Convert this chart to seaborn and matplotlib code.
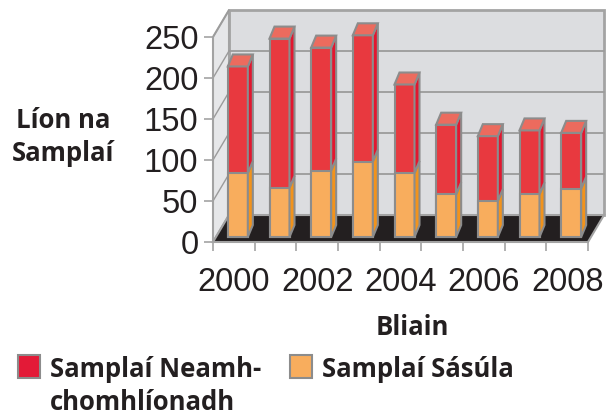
import matplotlib
matplotlib.use("Agg")
import matplotlib.pyplot as plt
import matplotlib.transforms as mtransforms
from matplotlib.patches import Polygon, Rectangle
import seaborn as sns
import pandas as pd

# data
years = ["2000", "2001", "2002", "2003", "2004", "2005", "2006", "2007", "2008"]
x_labels = ["2000", "", "2002", "", "2004", "", "2006", "", "2008"]
sasula = [78, 60, 81, 92, 78, 52, 44, 52, 59]
neamh = [130, 182, 150, 154, 108, 85, 79, 78, 68]
y_ticks = [0, 50, 100, 150, 200, 250]
series_names = ["Samplaí Neamh-\nchomhlíonadh", "Samplaí Sásúla"]

totals = [a + b for a, b in zip(sasula, neamh)]
df = pd.DataFrame({"Bliain": years, "Sasula": sasula, "Iomlan": totals})

RED = "#e8393f"
RED_SIDE = "#e3162f"
RED_TOP = "#ec6b5e"
ORANGE = "#f8ad5d"
ORANGE_SIDE = "#f2931c"
EDGE = "#8c8c8c"
WALL_EDGE = "#a3a3a3"
GRID = "#9b9b9b"
INK = "#231f20"

sns.set_style("white")
plt.rcParams["font.family"] = ["Liberation Sans", "DejaVu Sans"]

fig = plt.figure(figsize=(6.11, 4.15), dpi=100)
ax = fig.add_axes([213 / 611, 173 / 415, 375 / 611, 205 / 415])

# depth offsets (data units): walls, bar plane, bar thickness
wdx, wdy = 0.384, 32.9
bdx, bdy = 0.096, 6.1
sdx, sdy = 0.12, 14.6
shift = mtransforms.Affine2D().translate(bdx, bdy) + ax.transData

# stacked bars: totals in red, the Sásúla part drawn over it in orange
sns.barplot(data=df, x="Bliain", y="Iomlan", color=RED, width=0.48, saturation=1,
            edgecolor=EDGE, linewidth=1.5, ax=ax, zorder=2)
red_bars = ax.containers[-1]
sns.barplot(data=df, x="Bliain", y="Sasula", color=ORANGE, width=0.48, saturation=1,
            edgecolor=EDGE, linewidth=1.5, ax=ax, zorder=2)
orange_bars = ax.containers[-1]

for rb, ob in zip(red_bars, orange_bars):
    for bar in (rb, ob):
        bar.set_transform(shift)
        bar.set_clip_on(False)
    x0, w = rb.get_x(), rb.get_width()
    mid, top = ob.get_height(), rb.get_height()
    side_o = [(x0 + w, 0), (x0 + w + sdx, sdy), (x0 + w + sdx, mid + sdy), (x0 + w, mid)]
    side_r = [(x0 + w, mid), (x0 + w + sdx, mid + sdy), (x0 + w + sdx, top + sdy), (x0 + w, top)]
    roof = [(x0, top), (x0 + w, top), (x0 + w + sdx, top + sdy), (x0 + sdx, top + sdy)]
    for pts, fc in ((side_o, ORANGE_SIDE), (side_r, RED_SIDE), (roof, RED_TOP)):
        ax.add_patch(Polygon(pts, closed=True, fc=fc, ec=EDGE, lw=1.5,
                             transform=shift, zorder=2, clip_on=False))

ax.set_xlim(-0.5, len(years) - 0.5)
ax.set_ylim(0, 250)
x_end = len(years) - 0.5

# walls and floor
ax.add_patch(Rectangle((-0.5 + wdx, wdy), len(years), 250, fc="#dcdde0", ec=WALL_EDGE,
                       lw=2, zorder=0, clip_on=False))
ax.add_patch(Polygon([(-0.5, 0), (-0.5 + wdx, wdy), (-0.5 + wdx, 250 + wdy), (-0.5, 250)],
                     fc="#e6e7e9", ec=WALL_EDGE, lw=1.5, zorder=0, clip_on=False))
for v in y_ticks[1:-1]:
    ax.plot([-0.5 + wdx, x_end + wdx], [v + wdy, v + wdy], color=GRID, lw=1.3,
            zorder=0.2, clip_on=False)
for v in y_ticks[1:]:
    ax.plot([-0.5, -0.5 + wdx], [v, v + wdy], color=GRID, lw=1, zorder=0.2, clip_on=False)
ax.add_patch(Polygon([(-0.5, 0), (x_end, 0), (x_end + wdx, wdy), (-0.5 + wdx, wdy)],
                     fc=INK, ec=WALL_EDGE, lw=1.5, zorder=0.5, clip_on=False))

# axes
for s in ("top", "right"):
    ax.spines[s].set_visible(False)
for s in ("left", "bottom"):
    ax.spines[s].set_color(WALL_EDGE)
    ax.spines[s].set_linewidth(1.2)
ax.set(xlabel="", ylabel="")
ax.set_yticks(y_ticks)
ax.set_xticks(range(len(years)), labels=x_labels)
ax.set_xticks([i - 0.5 for i in range(len(years) + 1)], minor=True)
ax.tick_params(axis="y", length=6.5, width=1.2, color=WALL_EDGE, pad=4,
               labelsize=23.5, labelcolor=INK, left=True)
ax.tick_params(axis="x", which="major", length=0, pad=18, labelsize=23.5, labelcolor=INK)
ax.tick_params(axis="x", which="minor", length=6.5, width=1.2, color=WALL_EDGE, bottom=True)

bold = dict(family=["Open Sans", "DejaVu Sans"], fontweight="bold", fontsize=18.5, color=INK)
fig.text(63 / 611, 1 - 137 / 415, "Líon na\nSamplaí", ha="center", va="center",
         linespacing=1.3, **bold)
fig.text(412 / 611, 1 - 335 / 415, "Bliain", ha="center", va="baseline", **bold)

# legend
for x_box, x_txt, label, fc in ((18, 50, series_names[0], "#e31a37"),
                                (290, 322, series_names[1], ORANGE)):
    fig.add_artist(Rectangle((x_box / 611, 1 - 378 / 415), 22 / 611, 23 / 415,
                             transform=fig.transFigure, fc=fc, ec=EDGE, lw=1.5))
    fig.text(x_txt / 611, 1 - 356 / 415, label, ha="left", va="top",
             linespacing=1.3, **bold)

fig.savefig("out.png", dpi=100)
